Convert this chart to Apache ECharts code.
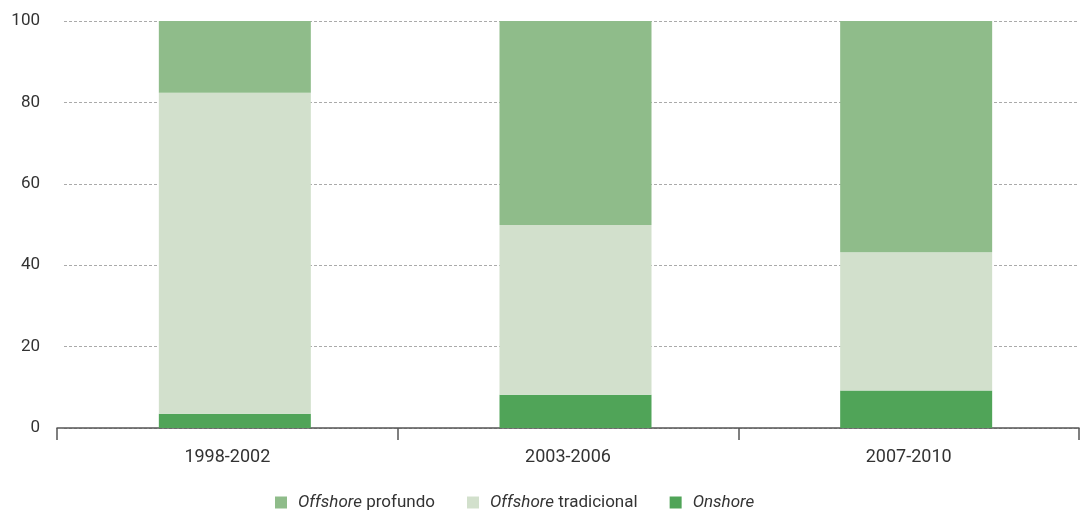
<!DOCTYPE html>
<html>
<head>
<meta charset="utf-8">
<script src="https://cdn.jsdelivr.net/npm/echarts@6/dist/echarts.min.js"></script>
<style>
  html, body { margin: 0; padding: 0; background: #fff; }
  #chart { width: 1084px; height: 515px; }
</style>
</head>
<body>
<div id="chart"></div>
<script>
// Share of discoveries by environment, per period (%)
const periods = ['1998-2002', '2003-2006', '2007-2010'];
const onshore = [3.5, 8.2, 9.2];
const offshoreTradicional = [78.9, 41.7, 34.0];
const offshoreProfundo = [17.6, 50.1, 56.8];
const yTicks = [0, 20, 40, 60, 80, 100];

const FONT = 'Roboto, "DejaVu Sans", sans-serif';
const TEXT = '#333';
const chart = echarts.init(document.getElementById('chart'));

const legendNames = {
  profundo: '{i|Offshore} profundo',
  tradicional: '{i|Offshore} tradicional',
  onshore: '{i|Onshore}'
};

const yMin = yTicks[0], yMax = yTicks[yTicks.length - 1];
const BAR_W = 152;
const SLOT_W = 15;

chart.setOption({
  animation: false,
  grid: [
    // x-axis baseline, ticks, period labels and the columns
    { left: 57, right: 5, top: 21, bottom: 87 },
    // y labels and dashed guide lines
    { left: 64, right: 5, top: 21, bottom: 87 }
  ],
  xAxis: [
    {
      gridIndex: 0, type: 'category', data: periods,
      axisLine: { lineStyle: { color: '#555', width: 1.5 } },
      axisTick: { show: true, length: 12, lineStyle: { color: '#555', width: 1.5 } },
      axisLabel: { color: TEXT, fontSize: 18, fontFamily: FONT, margin: 20 }
    },
    { gridIndex: 1, type: 'category', data: periods, show: false }
  ],
  yAxis: [
    { gridIndex: 0, type: 'value', min: yMin, max: yMax, interval: 20, show: false },
    {
      gridIndex: 1, type: 'value', min: yMin, max: yMax, interval: 20,
      axisLine: { show: false },
      axisTick: { show: false },
      axisLabel: { color: TEXT, fontSize: 17, fontFamily: FONT, margin: 24 },
      splitLine: { lineStyle: { color: '#aaa', type: [3, 2], width: 1 } }
    }
  ],
  legend: {
    top: 489,
    left: 270,
    itemWidth: 12,
    itemHeight: 12,
    itemGap: 32,
    icon: 'rect',
    data: ['profundo', 'tradicional', 'onshore'],
    formatter: name => legendNames[name],
    textStyle: {
      color: TEXT, fontSize: 17, fontFamily: FONT, padding: [0, 0, 0, 6],
      rich: { i: { fontStyle: 'italic', fontSize: 17, fontFamily: FONT, color: TEXT } }
    }
  },
  series: [
    // narrow empty slot that nudges the columns a little right of the category centre
    { name: 'slot', type: 'bar', stack: 'slot', data: [null, null, null],
      barWidth: SLOT_W, barGap: '0%', silent: true, itemStyle: { color: 'transparent' } },
    { name: 'onshore', type: 'bar', stack: 't', data: onshore, barWidth: BAR_W, barGap: '0%',
      itemStyle: { color: '#50a458' } },
    { name: 'tradicional', type: 'bar', stack: 't', data: offshoreTradicional,
      itemStyle: { color: '#d2e0cc' } },
    { name: 'profundo', type: 'bar', stack: 't', data: offshoreProfundo,
      itemStyle: { color: '#8fbc8a' } }
  ]
});
</script>
</body>
</html>
